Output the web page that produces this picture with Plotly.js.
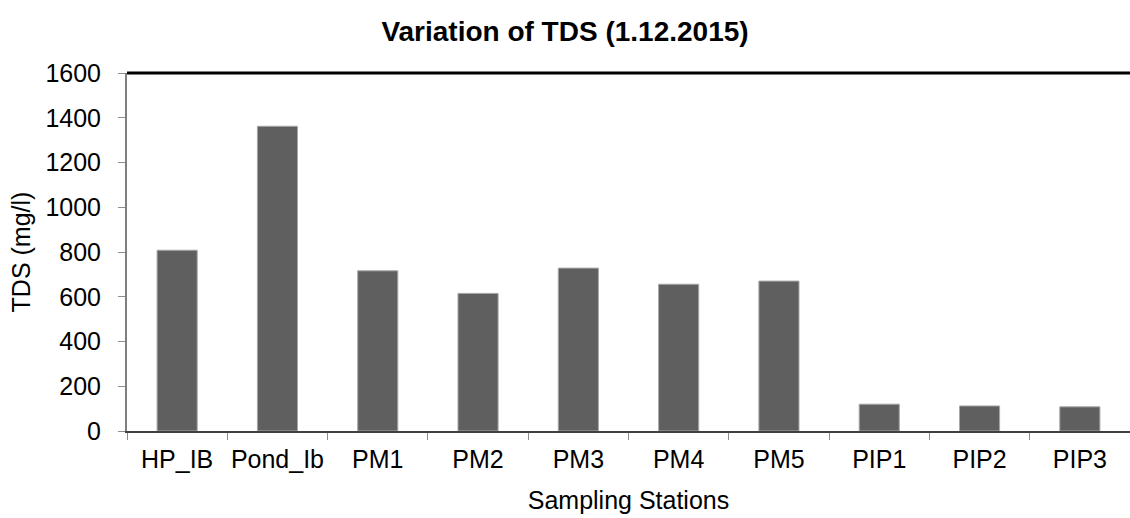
<!DOCTYPE html>
<html>
<head>
<meta charset="utf-8">
<script src="https://cdn.plot.ly/plotly-3.0.1.min.js"></script>
<style>html,body{margin:0;padding:0;background:#fff}#chart{width:1130px;height:518px}</style>
</head>
<body>
<div id="chart"></div>
<script>
const stations = ["HP_IB", "Pond_Ib", "PM1", "PM2", "PM3", "PM4", "PM5", "PIP1", "PIP2", "PIP3"];
const tdsValues = [808, 1362, 716, 615, 728, 656, 670, 120, 112, 108];
const yTickValues = [0, 200, 400, 600, 800, 1000, 1200, 1400, 1600];

const font = "Liberation Sans, Arial, sans-serif";

Plotly.newPlot("chart", [{
  type: "bar",
  x: stations,
  y: tdsValues,
  width: 0.4,
  marker: {color: "#5f5f5f", line: {color: "#a8a8a8", width: 1}},
  hoverinfo: "x+y"
}], {
  width: 1130, height: 518,
  margin: {l: 127, r: 0, t: 73, b: 87},
  paper_bgcolor: "#fff", plot_bgcolor: "#fff",
  font: {family: font, size: 25, color: "#000"},
  title: {text: "<b>Variation of TDS (1.12.2015)</b>", x: 0.5, xanchor: "center", y: 0.94, yanchor: "middle",
          font: {family: font, size: 28, color: "#000"}},
  showlegend: false,
  bargap: 0.6,
  xaxis: {
    type: "category",
    showline: true, linecolor: "#404040", linewidth: 2,
    ticks: "outside", tickson: "boundaries", ticklen: 7, tickcolor: "#8c8c8c", tickwidth: 1,
    tickangle: 0, ticklabelstandoff: 5,
    showgrid: false, zeroline: false,
    tickfont: {family: font, size: 25},
    title: {text: "Sampling Stations", font: {family: font, size: 25}, standoff: 19}
  },
  yaxis: {
    range: [0, 1600], tickvals: yTickValues,
    showline: true, linecolor: "#7f7f7f", linewidth: 2,
    ticks: "outside", ticklen: 7, tickcolor: "#8c8c8c", tickwidth: 1,
    ticklabelstandoff: 12,
    showgrid: false, zeroline: false,
    tickfont: {family: font, size: 25},
    title: {text: "TDS (mg/l)", font: {family: font, size: 25}, standoff: 8}
  },
  shapes: [{type: "line", xref: "paper", yref: "paper", x0: 0, x1: 1, y0: 1, y1: 1,
            line: {color: "#000", width: 3}}]
}, {displayModeBar: false, staticPlot: true});
</script>
</body>
</html>
